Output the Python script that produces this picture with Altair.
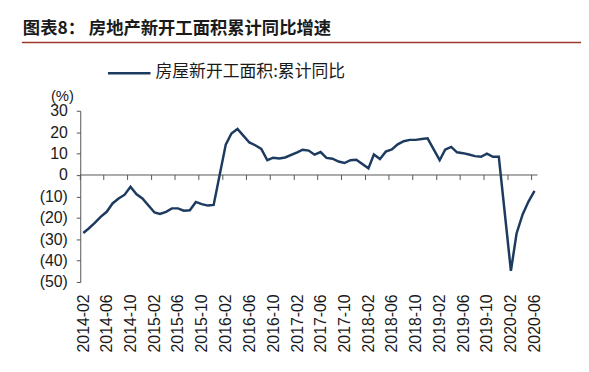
import altair as alt
import pandas as pd

# ---- data ----
months = [
    "2014-02", "2014-03", "2014-04", "2014-05", "2014-06", "2014-07", "2014-08", "2014-09", "2014-10", "2014-11", "2014-12",
    "2015-02", "2015-03", "2015-04", "2015-05", "2015-06", "2015-07", "2015-08", "2015-09", "2015-10", "2015-11", "2015-12",
    "2016-02", "2016-03", "2016-04", "2016-05", "2016-06", "2016-07", "2016-08", "2016-09", "2016-10", "2016-11", "2016-12",
    "2017-02", "2017-03", "2017-04", "2017-05", "2017-06", "2017-07", "2017-08", "2017-09", "2017-10", "2017-11", "2017-12",
    "2018-02", "2018-03", "2018-04", "2018-05", "2018-06", "2018-07", "2018-08", "2018-09", "2018-10", "2018-11", "2018-12",
    "2019-02", "2019-03", "2019-04", "2019-05", "2019-06", "2019-07", "2019-08", "2019-09", "2019-10", "2019-11", "2019-12",
    "2020-02", "2020-03", "2020-04", "2020-05", "2020-06",
]
values = [
    -27.1, -25.0, -22.4, -19.6, -17.2, -13.3, -11.0, -9.2, -5.5, -9.0, -11.0,
    -17.5, -18.2, -17.2, -15.6, -15.6, -16.7, -16.5, -12.6, -13.6, -14.3, -14.0,
    14.2, 19.4, 21.5, 18.4, 15.2, 13.9, 12.2, 6.9, 8.1, 7.7, 8.2,
    10.6, 11.8, 11.4, 9.5, 10.7, 8.0, 7.6, 6.3, 5.6, 6.9, 7.1,
    3.1, 9.6, 7.5, 10.9, 11.9, 14.3, 15.8, 16.4, 16.4, 16.8, 17.1,
    6.9, 11.8, 13.1, 10.6, 10.2, 9.6, 8.8, 8.5, 10.0, 8.5, 8.5,
    -44.8, -27.3, -18.4, -12.4, -7.4,
]
label_months = [
    "2014-02", "2014-06", "2014-10", "2015-02", "2015-06", "2015-10",
    "2016-02", "2016-06", "2016-10", "2017-02", "2017-06", "2017-10",
    "2018-02", "2018-06", "2018-10", "2019-02", "2019-06", "2019-10",
    "2020-02", "2020-06",
]
y_ticks = [30, 20, 10, 0, -10, -20, -30, -40, -50]

title_text = "图表8：  房地产新开工面积累计同比增速"
series_name = "房屋新开工面积:累计同比"
unit_text = "(%)"

NAVY = "#1D3A5F"
AXIS = "#555555"
TEXT = "#1a1a1a"
LATIN = "Liberation Sans, Arial, sans-serif"
CJK = "Noto Sans CJK SC"

df = pd.DataFrame({"month": pd.to_datetime(months), "value": values})
label_dates = pd.to_datetime(label_months)
ticks_df = pd.DataFrame({"month": label_dates - pd.Timedelta(days=15), "value": 0})
zero_df = pd.DataFrame({"value": [0]})

x_scale = alt.Scale(domain=[
    alt.DateTime(year=2014, month=1, date=16, hours=12),
    alt.DateTime(year=2020, month=6, date=16),
])
y_scale = alt.Scale(domain=[-50, 30], nice=False, zero=False)

x_axis = alt.Axis(
    values=[alt.DateTime(year=d.year, month=d.month, date=1) for d in label_dates],
    format="%Y-%m", labelAngle=270, domain=False, ticks=False, grid=False,
    labelPadding=12, labelFontSize=16, labelFont=LATIN, labelColor=TEXT,
    labelOverlap=False, labelBound=False, labelFlush=False, title=None,
)
y_axis = alt.Axis(
    values=y_ticks,
    labelExpr="datum.value < 0 ? '(' + format(-datum.value, 'd') + ')' : format(datum.value, 'd')",
    grid=False, domain=True, domainColor=AXIS, domainWidth=1,
    ticks=True, tickSize=4, tickColor=AXIS, labelOverlap=False, labelBound=False,
    labelFontSize=16, labelFont=LATIN, labelColor=TEXT, labelPadding=9,
    title=None,
)

X = alt.X("month:T", scale=x_scale, axis=x_axis)
Y = alt.Y("value:Q", scale=y_scale, axis=y_axis)

zero = alt.Chart(zero_df).mark_rule(color=AXIS, strokeWidth=1).encode(y=Y)

xticks = alt.Chart(ticks_df).mark_rule(color=AXIS, strokeWidth=1, y2Offset=5).encode(
    x=X, y=Y, y2=alt.Y2("value:Q"),
)

line = alt.Chart(df).mark_line(color=NAVY, strokeWidth=2.5).encode(x=X, y=Y)

one = pd.DataFrame({"a": [1]})

title = alt.Chart(one).mark_text(
    align="left", baseline="middle", font=CJK, fontSize=17.5, fontWeight="bold", color=TEXT,
).encode(x=alt.value(-58), y=alt.value(-83), text=alt.value(title_text))

red_rule = alt.Chart(one).mark_rule(color="#9E3A2E", strokeWidth=1.5).encode(
    x=alt.value(-59), x2=alt.value(520), y=alt.value(-69),
)

legend_line = alt.Chart(one).mark_rule(color=NAVY, strokeWidth=2.5).encode(
    x=alt.value(28), x2=alt.value(71), y=alt.value(-38),
)
legend_text = alt.Chart(one).mark_text(
    align="left", baseline="middle", font=CJK, fontSize=17, color=TEXT,
).encode(x=alt.value(76), y=alt.value(-39), text=alt.value(series_name))

unit = alt.Chart(one).mark_text(
    align="center", baseline="middle", font=LATIN, fontSize=15, color=TEXT,
).encode(x=alt.value(-18), y=alt.value(-15), text=alt.value(unit_text))

chart = alt.layer(
    zero, xticks, line, title, red_rule, legend_line, legend_text, unit,
).properties(
    width=462, height=173,
    autosize=alt.AutoSizeParams(type="none"),
    padding={"left": 73, "top": 102, "right": 44, "bottom": 80},
).configure_view(stroke=None)

chart.save("out.html", embed_options={"renderer": "svg", "actions": False})
